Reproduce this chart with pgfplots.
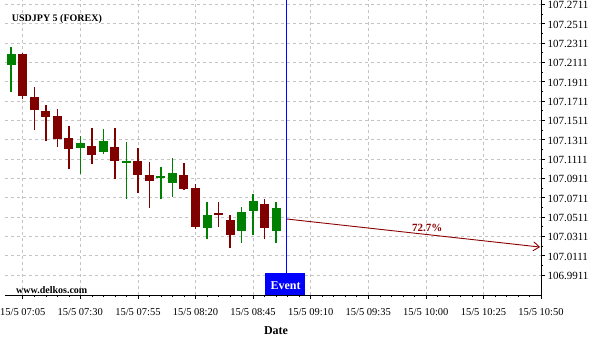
\documentclass[border=0pt]{standalone}
\usepackage{fontspec}
\setmainfont{Liberation Serif}
\usepackage{pgfplots}
\usepackage{pgfplotstable}
\pgfplotsset{compat=1.18}
\usetikzlibrary{arrows.meta}
\definecolor{cgreen}{HTML}{008000}
\definecolor{cred}{HTML}{800000}
\definecolor{arrred}{HTML}{8B0000}
\definecolor{evblue}{HTML}{0000FF}
\definecolor{gridc}{HTML}{C4C4C4}

% time in minutes after 07:00
\pgfplotstableread{
t o h l c
0 107.2087 107.2273 107.1807 107.2197
30 107.1228 107.1344 107.0953 107.1276
40 107.1186 107.1418 107.1159 107.1297
50 107.1073 107.1284 107.0694 107.1088
65 107.0916 107.1025 107.0694 107.0932
70 107.0866 107.1118 107.0721 107.0969
85 107.0402 107.0666 107.0288 107.0531
100 107.0368 107.0616 107.0239 107.0562
105 107.0576 107.0749 107.0321 107.0676
115 107.0368 107.0664 107.0239 107.0606
}\greentab

\pgfplotstableread{
t o h l c
5 107.2197 107.2205 107.1729 107.1766
10 107.1752 107.1853 107.1408 107.1621
15 107.1607 107.1670 107.1294 107.1549
20 107.1556 107.1625 107.1240 107.1313
25 107.1328 107.1449 107.1004 107.1217
35 107.1245 107.1428 107.1059 107.1155
45 107.1235 107.1428 107.0901 107.1093
55 107.1090 107.1222 107.0756 107.0947
60 107.0945 107.1078 107.0601 107.0886
75 107.0945 107.1069 107.0793 107.0802
80 107.0811 107.0849 107.0390 107.0409
90 107.0550 107.0666 107.0412 107.0534
95 107.0480 107.0529 107.0187 107.0328
110 107.0645 107.0700 107.0288 107.0400
}\redtab

\begin{document}
\begin{tikzpicture}
\useasboundingbox (0,0) rectangle (600pt,340pt);
\begin{axis}[
  at={(5pt,45pt)}, anchor=south west,
  scale only axis, width=536pt, height=295pt,
  xmin=-2.7, xmax=230, ymin=106.9704, ymax=107.2756,
  axis x line*=bottom, axis y line*=right,
  axis line style={-, black, line width=0.9pt},
  xtick={5,30,55,80,105,130,155,180,205,230},
  xticklabels={15/5 07:05,15/5 07:30,15/5 07:55,15/5 08:20,15/5 08:45,15/5 09:10,15/5 09:35,15/5 10:00,15/5 10:25,15/5 10:50},
  minor x tick num=4,
  ytick={106.9911,107.0111,107.0311,107.0511,107.0711,107.0911,107.1111,107.1311,107.1511,107.1711,107.1911,107.2111,107.2311,107.2511,107.2711},
  yticklabels={106.9911,107.0111,107.0311,107.0511,107.0711,107.0911,107.1111,107.1311,107.1511,107.1711,107.1911,107.2111,107.2311,107.2511,107.2711},
  minor y tick num=1,
  tick align=outside, major tick length=4pt, minor tick length=2pt,
  tick style={black, line width=0.5pt},
  grid=major, major grid style={gridc, dashed, line width=0.6pt},
  xticklabel style={font=\fontsize{10.5}{12}\selectfont, yshift=-5.5pt},
  yticklabel style={font=\fontsize{11}{13}\selectfont, xshift=-1pt, yshift=-1pt},
  clip=false,
]
% wicks
\addplot[draw=none, forget plot, error bars/.cd, y dir=plus, y explicit, error mark=none,
  error bar style={draw=cgreen, solid, line width=1.5pt}]
  table[x=t, y=l, y error plus expr=\thisrow{h}-\thisrow{l}] {\greentab};
\addplot[draw=none, forget plot, error bars/.cd, y dir=plus, y explicit, error mark=none,
  error bar style={draw=cred, solid, line width=1.5pt}]
  table[x=t, y=l, y error plus expr=\thisrow{h}-\thisrow{l}] {\redtab};
% bodies
\addplot[draw=none, forget plot, error bars/.cd, y dir=plus, y explicit, error mark=none,
  error bar style={draw=cgreen, solid, line width=9pt}]
  table[x=t, y=o, y error plus expr=\thisrow{c}-\thisrow{o}] {\greentab};
\addplot[draw=none, forget plot, error bars/.cd, y dir=plus, y explicit, error mark=none,
  error bar style={draw=cred, solid, line width=9pt}]
  table[x=t, y=c, y error plus expr=\thisrow{o}-\thisrow{c}] {\redtab};
% event
\fill[evblue] (axis cs:110.3,106.9704) rectangle (axis cs:127.7,106.9931);
\addplot[evblue, line width=1pt] coordinates {(119.7,106.9931) (119.7,107.2756)};
\node[text=white, font=\bfseries\fontsize{12}{14}\selectfont] at (axis cs:119.1,106.9797) {Event};
% forecast arrow
\addplot[arrred, line width=0.9pt, -{Straight Barb[length=6pt,width=9pt]}] coordinates {(119.7,107.0490) (229.6,107.0200)};
\node[text=arrred, font=\bfseries\fontsize{11}{13}\selectfont] at (axis cs:180.6,107.0394) {72.7\%};
\end{axis}
\node[anchor=west, inner sep=0pt, font=\bfseries\fontsize{10}{12}\selectfont] at (11.7pt,321pt) {USDJPY 5 (FOREX)};
\node[anchor=west, inner sep=0pt, font=\bfseries\fontsize{10}{12}\selectfont] at (16pt,50pt) {www.delkos.com};
\node[font=\bfseries\fontsize{12}{14}\selectfont] at (276pt,9pt) {Date};
\end{tikzpicture}
\end{document}
